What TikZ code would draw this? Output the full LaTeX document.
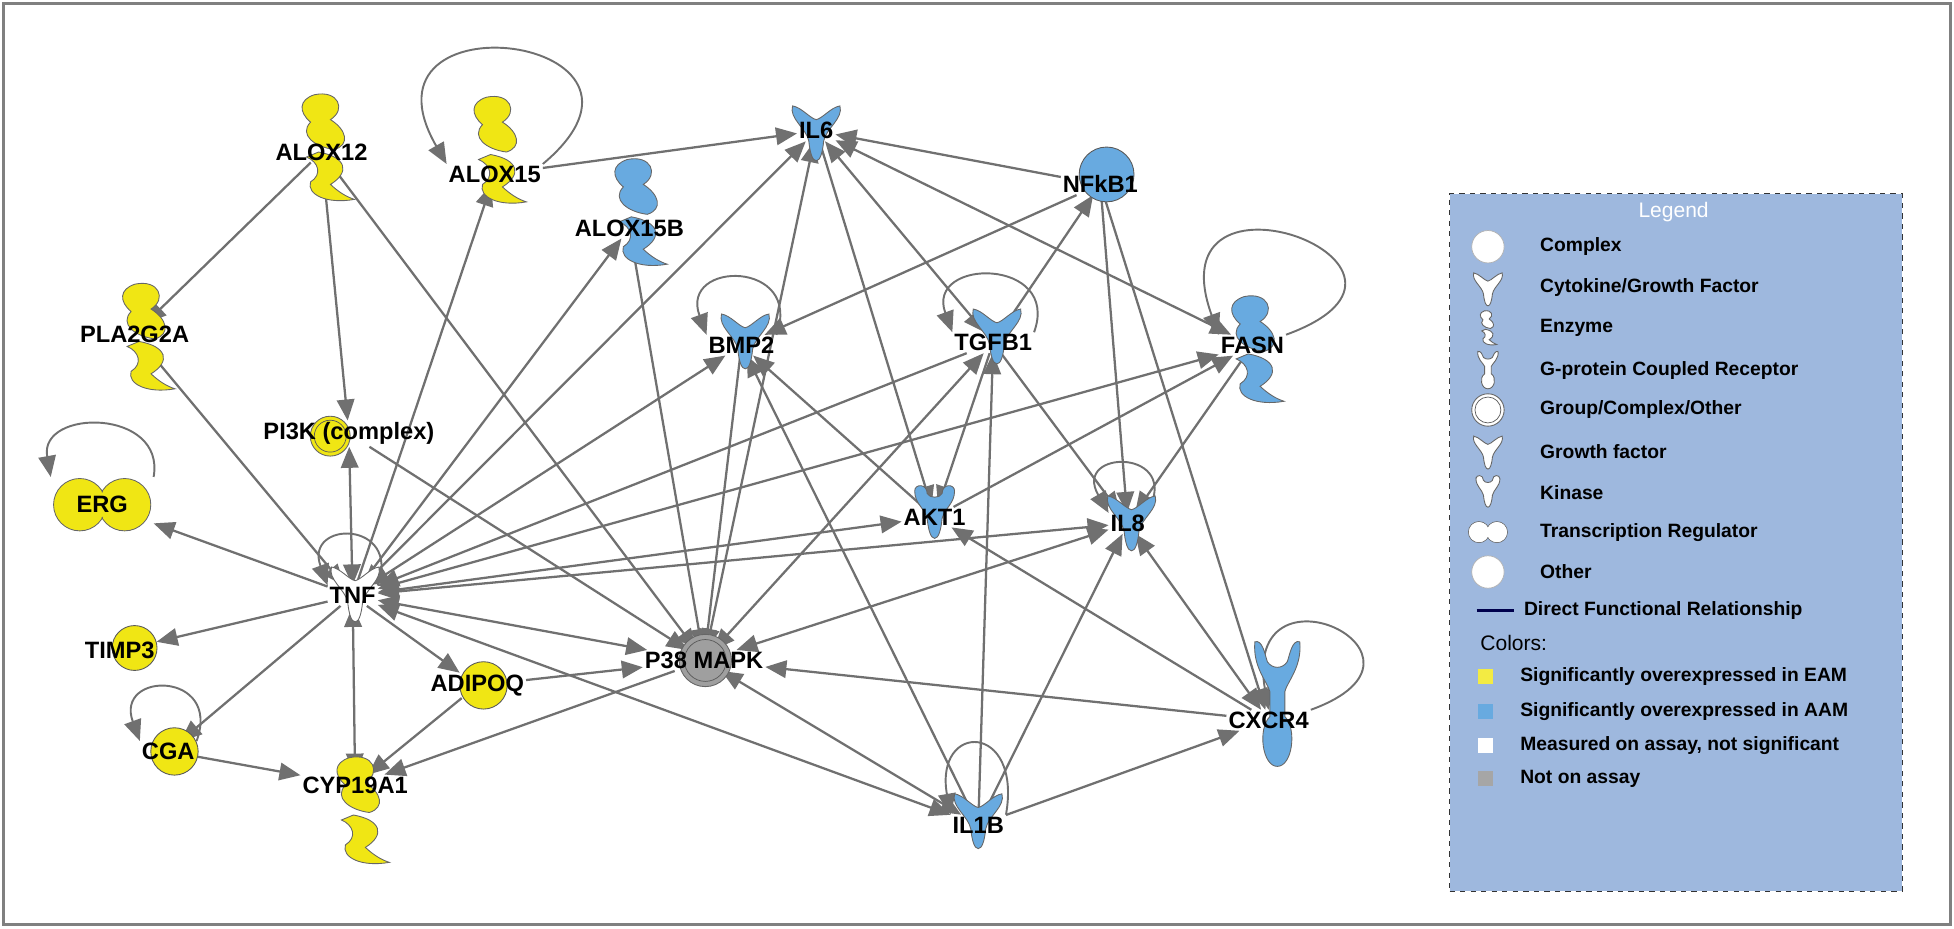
\documentclass[tikz,border=0pt]{standalone}
\usepackage{fontspec}
\setmainfont{Liberation Sans}
\usetikzlibrary{arrows.meta, backgrounds}

\definecolor{yel}{RGB}{240,230,20}
\definecolor{blu}{RGB}{104,170,224}
\definecolor{edgegray}{RGB}{112,112,112}
\definecolor{leg}{RGB}{158,184,222}

\tikzset{
  gene/.style={font=\fontsize{13.5}{14}\selectfont\bfseries, inner sep=1pt},
  edge/.style={draw=edgegray, line width=1.3pt, -{Triangle[length=12pt,width=10pt]}},
  both/.style={edge, {Triangle[length=12pt,width=10pt]}-{Triangle[length=12pt,width=10pt]}},
  selfloop/.style={edge, line width=1.1pt},
  blob/.style={draw=gray!80!black, line width=0.5pt},
  legtext/.style={font=\fontsize{11}{12}\selectfont\bfseries, anchor=west},
  cyto/.pic={\path[pic actions] (-19,20) .. controls (-12,19) and (-5,10) .. (0,9)
      .. controls (5,10) and (12,19) .. (19,20) .. controls (22,10) and (8,2) .. (6,-8)
      .. controls (5,-18) and (3,-24) .. (0,-24) .. controls (-3,-24) and (-5,-18) .. (-6,-8)
      .. controls (-8,2) and (-22,10) .. cycle;},
  enzyme/.pic={\path[pic actions] (-6,42) .. controls (6,46) and (10,30) .. (2,22)
      .. controls (10,14) and (12,2) .. (4,-2) .. controls (-6,0) and (-14,10) .. (-8,20)
      .. controls (-14,28) and (-14,38) .. cycle;
    \path[pic actions] (-4,-4) .. controls (10,-8) and (12,-20) .. (2,-30)
      .. controls (6,-36) and (10,-40) .. (14,-42) .. controls (0,-46) and (-10,-38) .. (-8,-28)
      .. controls (-2,-22) and (-4,-12) .. (-10,-8) -- cycle;},
  gpcr/.pic={\path[pic actions] (-18,50) .. controls (-20,30) and (-8,18) .. (-6,10) -- (-6,-10)
      .. controls (-16,-20) and (-12,-50) .. (0,-50) .. controls (12,-50) and (16,-20) .. (6,-10)
      -- (6,10) .. controls (8,18) and (20,30) .. (18,50) .. controls (12,52) and (10,40) .. (8,34)
      .. controls (4,28) and (-4,28) .. (-8,34) .. controls (-10,40) and (-12,52) .. cycle;},
  kinase/.pic={\path[pic actions] (-16,18) .. controls (-16,24) and (-6,24) .. (-6,16)
      .. controls (-4,12) and (4,12) .. (6,16) .. controls (6,24) and (16,24) .. (16,18)
      .. controls (16,8) and (8,4) .. (6,-4) .. controls (5,-14) and (3,-20) .. (0,-20)
      .. controls (-3,-20) and (-5,-14) .. (-6,-4) .. controls (-8,4) and (-16,8) .. cycle;},
  treg/.pic={\path[pic actions] (-18,0) circle (21) (18,0) circle (21);
    \path[pic actions, draw=none] (-18,0) circle (20.3) (18,0) circle (20.3);},
  group/.pic={\path[pic actions] (0,0) circle (1); \draw[gray!70!black, line width=0.4pt] (0,0) circle (0.8);}
}
\pgfdeclarelayer{bg}
\pgfsetlayers{bg,main}

\begin{document}
\begin{tikzpicture}[x=0.025cm, y=0.025cm]
  \useasboundingbox (0,0) rectangle (1568,745);
  \draw[gray, line width=1.5pt] (3,3) rectangle (1565,742);

  % molecule shapes
  \pic[blob, fill=blu] at (655,640) {cyto};
  \fill[blu, draw=gray!70!black, line width=0.5pt] (888,605) circle (22);
  \pic[blob, fill=yel, xscale=1.6] at (262,627) {enzyme};
  \pic[blob, fill=yel, xscale=1.6] at (400,625) {enzyme};
  \pic[blob, fill=blu, xscale=1.6] at (513,575) {enzyme};
  \pic[blob, fill=yel, xscale=1.6] at (118,475) {enzyme};
  \pic[blob, fill=blu] at (598,473) {cyto};
  \pic[blob, fill=blu] at (800,477) {cyto};
  \pic[blob, fill=blu, xscale=1.6] at (1008,465) {enzyme};
  \pic[blob, fill=yel, scale=16] at (265,395) {group};
  \pic[blob, fill=yel] at (82,340) {treg};
  \pic[blob, fill=white] at (285,270) {cyto};
  \pic[blob, fill=blu] at (750,333) {kinase};
  \pic[blob, fill=blu] at (908,327) {cyto};
  \fill[yel, draw=gray!70!black, line width=0.5pt] (108,225) circle (18);
  \pic[blob, fill=gray!75, scale=21] at (566,215) {group};
  \fill[yel, draw=gray!70!black, line width=0.5pt] (388,195) circle (19);
  \fill[yel, draw=gray!70!black, line width=0.5pt] (140,142) circle (19);
  \pic[blob, fill=yel, xscale=1.6] at (290,95) {enzyme};
  \pic[blob, fill=blu] at (1025,180) {gpcr};
  \pic[blob, fill=blu] at (785,88) {cyto};

  % labels
  \node[gene] (il6) at (655,640) {IL6};
  \node[gene] (nfkb) at (883,597) {NFkB1};
  \node[gene] (alox12) at (258,623) {ALOX12};
  \node[gene] (alox15) at (397,605) {ALOX15};
  \node[gene] (alox15b) at (505,562) {ALOX15B};
  \node[gene] (pla) at (108,477) {PLA2G2A};
  \node[gene] (bmp) at (595,468) {BMP2};
  \node[gene] (tgfb) at (797,470) {TGFB1};
  \node[gene] (fasn) at (1005,468) {FASN};
  \node[gene] (pik) at (280,397) {PI3K (complex)};
  \node[gene, minimum width=82*0.025cm, minimum height=44*0.025cm] (erg) at (82,340) {ERG};
  \node[gene] (tnf) at (283,267) {TNF};
  \node[gene] (akt) at (750,330) {AKT1};
  \node[gene] (il8) at (905,325) {IL8};
  \node[gene] (timp) at (96,223) {TIMP3};
  \node[gene] (p38) at (565,215) {P38 MAPK};
  \node[gene] (adipoq) at (383,195) {ADIPOQ};
  \node[gene] (cga) at (135,142) {CGA};
  \node[gene] (cyp) at (285,115) {CYP19A1};
  \node[gene] (cxcr) at (1018,167) {CXCR4};
  \node[gene] (il1b) at (785,83) {IL1B};

  % relationships
  \begin{pgfonlayer}{bg}
  \foreach \a/\b in {alox15/il6, alox12/pla, alox12/pik, alox12/p38, tnf/alox15, tnf/alox15b,
      tgfb/tnf, tnf/erg, tnf/timp, tnf/cga, tnf/adipoq, pik/p38, adipoq/cyp, adipoq/p38,
      p38/cyp, cga/cyp, alox15b/p38, bmp/p38, akt/bmp, il1b/bmp, nfkb/il6, nfkb/bmp,
      nfkb/il8, nfkb/cxcr, tgfb/nfkb, il6/akt, tgfb/akt, tgfb/il8, il1b/tgfb, akt/fasn,
      fasn/il8, cxcr/p38, cxcr/akt, il1b/cxcr, il1b/il8}
    \draw[edge] (\a) -- (\b);
  \foreach \a/\b in {tnf/il6, tnf/bmp, tnf/fasn, tnf/akt, tnf/il8, tnf/p38, tnf/il1b, tnf/pla,
      tnf/cyp, tnf/pik, il6/p38, tgfb/p38, il6/tgfb, il6/fasn, p38/il8, cxcr/il8, p38/il1b}
    \draw[both] (\a) -- (\b);
  \draw[selfloop] (alox15.north east) to[out=40, in=120, distance=4cm] (alox15.north west);
  \draw[selfloop] (bmp.north east) to[out=70, in=110, distance=1.6cm] (bmp.north west);
  \draw[selfloop] (tgfb.north east) to[out=70, in=110, distance=1.6cm] (tgfb.north west);
  \draw[selfloop] (fasn.north east) to[out=20, in=110, distance=4cm] (fasn.north west);
  \draw[selfloop] (erg.north east) to[out=80, in=100, distance=1.4cm] (erg.north west);
  \draw[selfloop] (tnf.north east) to[out=70, in=110, distance=1.4cm] (tnf.north west);
  \draw[selfloop] (cga.north east) to[out=70, in=110, distance=1.5cm] (cga.north west);
  \draw[selfloop] (il8.north east) to[out=60, in=120, distance=1.5cm] (il8.north west);
  \draw[selfloop] (cxcr.north east) to[out=20, in=100, distance=3.2cm] (cxcr.north);
  \draw[selfloop] (il1b.north east) to[out=80, in=100, distance=1.9cm] (il1b.north west);
  \end{pgfonlayer}

  % legend
  \node[draw=gray!40!black, dashed, fill=leg, minimum width=363*0.025cm, minimum height=560*0.025cm,
    anchor=north west, inner sep=0pt] (legbox) at (1163,590) {};
  \node[text=white, font=\fontsize{12}{13}\selectfont] (legtitle) at (1343,575) {Legend};
  \fill[white, draw=gray!60] (1194,547) circle (13);
  \node[legtext] (l1) at (1231,547) {Complex};
  \pic[blob, fill=white, scale=0.6] at (1194,514) {cyto};
  \node[legtext] (l2) at (1231,514) {Cytokine/Growth Factor};
  \pic[blob, fill=white, xscale=0.5, yscale=0.32] at (1194,482) {enzyme};
  \node[legtext] (l3) at (1231,482) {Enzyme};
  \pic[blob, fill=white, xscale=0.45, yscale=0.3] at (1194,448) {gpcr};
  \node[legtext] (l4) at (1231,448) {G-protein Coupled Receptor};
  \pic[blob, fill=white, scale=13] at (1194,416) {group};
  \node[legtext] (l5) at (1231,416) {Group/Complex/Other};
  \pic[blob, fill=white, scale=0.6] at (1194,383) {cyto};
  \node[legtext] (l6) at (1231,383) {Growth factor};
  \pic[blob, fill=white, scale=0.6] at (1194,350) {kinase};
  \node[legtext] (l7) at (1231,350) {Kinase};
  \pic[blob, fill=white, scale=0.4] at (1194,318) {treg};
  \node[legtext] (l8) at (1231,318) {Transcription Regulator};
  \fill[white, draw=gray!60] (1194,286) circle (13);
  \node[legtext] (l9) at (1231,286) {Other};
  \draw[line width=1.3pt, black!70!blue] (1185,255) -- (1215,255);
  \node[legtext] (l10) at (1218,255) {Direct Functional Relationship};
  \node[anchor=west, font=\fontsize{12}{13}\selectfont] (colors) at (1183,229) {Colors:};
  \fill[yel!80] (1186,196) rectangle (1198,208);
  \node[legtext] (c1) at (1215,202) {Significantly overexpressed in EAM};
  \fill[blu] (1186,168) rectangle (1198,180);
  \node[legtext] (c2) at (1215,174) {Significantly overexpressed in AAM};
  \fill[white] (1186,141) rectangle (1198,153);
  \node[legtext] (c3) at (1215,147) {Measured on assay, not significant};
  \fill[gray!70] (1186,114) rectangle (1198,126);
  \node[legtext] (c4) at (1215,120) {Not on assay};
\end{tikzpicture}
\end{document}
